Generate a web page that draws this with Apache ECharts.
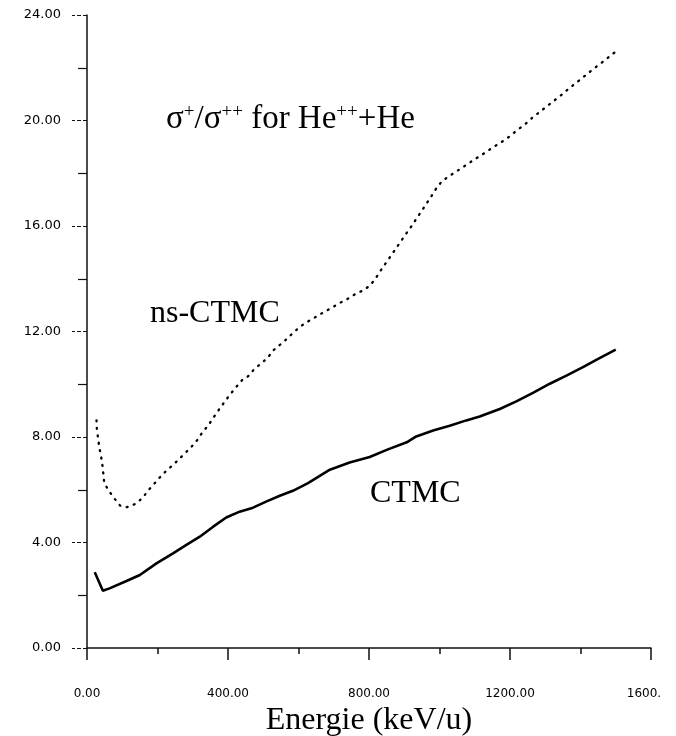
<!DOCTYPE html>
<html>
<head>
<meta charset="utf-8">
<script src="https://cdn.jsdelivr.net/npm/echarts@6/dist/echarts.min.js"></script>
<style>
  html, body { margin: 0; padding: 0; background: #fff; }
  #chart { width: 676px; height: 736px; }
</style>
</head>
<body>
<div id="chart"></div>
<script>
// ns-CTMC (pointillé)
let nsEnergy = [27, 28, 35, 40, 44, 49, 62, 77, 94, 113, 137, 157, 173, 190, 206, 225, 244, 261, 280, 299,
    312, 327, 345, 359, 374, 388, 403, 421, 441, 457, 473, 495, 512, 528, 548, 567, 584, 605, 627, 649,
    671, 694, 715, 737, 759, 783, 803, 819, 833, 847, 861, 876, 891, 906, 922, 935, 950, 963, 977, 991,
    1007, 1027, 1049, 1071, 1092, 1114, 1135, 1157, 1177, 1199, 1223, 1244, 1262, 1282, 1303, 1323,
    1345, 1365, 1384, 1404, 1424, 1445, 1466, 1487, 1502];
let nsRatio = [8.63, 8.30, 7.60, 7.26, 6.90, 6.25, 5.96, 5.68, 5.40, 5.34, 5.46, 5.68, 5.96, 6.22, 6.46, 6.72, 6.94, 7.16, 7.41, 7.67,
    7.87, 8.17, 8.46, 8.74, 9.03, 9.29, 9.56, 9.86, 10.17, 10.30, 10.55, 10.80, 10.99, 11.28, 11.50, 11.72, 11.94, 12.19, 12.38, 12.55,
    12.73, 12.90, 13.07, 13.22, 13.40, 13.56, 13.74, 14.02, 14.31, 14.58, 14.85, 15.14, 15.43, 15.72, 16.02, 16.29, 16.58, 16.85, 17.13, 17.43,
    17.70, 17.89, 18.08, 18.27, 18.46, 18.65, 18.83, 19.03, 19.19, 19.40, 19.66, 19.87, 20.09, 20.30, 20.52, 20.73,
    20.96, 21.19, 21.39, 21.60, 21.82, 22.04, 22.25, 22.48, 22.63];

// CTMC (trait plein)
let ctmcEnergy = [22, 45, 64, 112, 150, 197, 244, 282, 320, 358, 395, 433, 471, 508, 547, 584, 627, 689, 745, 802,
    852, 907, 934, 982, 1029, 1076, 1114, 1171, 1218, 1265, 1313, 1360, 1407, 1454, 1500];
let ctmcRatio = [2.87, 2.17, 2.26, 2.54, 2.77, 3.21, 3.59, 3.91, 4.22, 4.60, 4.95, 5.17, 5.32, 5.55, 5.77, 5.96, 6.25, 6.76, 7.03, 7.24,
    7.52, 7.80, 8.02, 8.25, 8.43, 8.63, 8.78, 9.06, 9.35, 9.67, 10.02, 10.33, 10.65, 10.99, 11.31];

let xTicks = [0, 400, 800, 1200, 1600];
let yTicks = [0, 4, 8, 12, 16, 20, 24];

function pairs(xs, ys){
    let out = [];
    for(let i = 0;i<xs.length;i++){
        out.push([xs[i], ys[i]]);
    }
    return out;
}

let myChart = echarts.init(document.getElementById('chart'));

let option = {
    backgroundColor: '#fff',
    animation: false,
    grid: { left: 87, right: 25, top: 15, bottom: 88, outerBoundsMode: 'none', containLabel: false },
    xAxis: {
        type: 'value',
        min: xTicks[0],
        max: xTicks[xTicks.length - 1],
        interval: 400,
        name: 'Energie (keV/u)',
        nameLocation: 'middle',
        nameGap: 47,
        nameTextStyle: { fontFamily: 'Liberation Serif', fontSize: 32, color: '#000' },
        axisLine: { lineStyle: { color: '#111', width: 1.5 } },
        axisTick: { length: 12, lineStyle: { color: '#111', width: 1.5 } },
        minorTick: { show: true, splitNumber: 2, length: 6, lineStyle: { color: '#111', width: 1.5 } },
        splitLine: { show: false },
        axisLabel: {
            margin: 40,
            fontFamily: 'DejaVu Sans',
            fontSize: 12,
            color: '#000',
            formatter: function (v) {
                if (v === 1600) return '{last|1600.}';
                return v.toFixed(2);
            },
            rich: { last: { fontFamily: 'DejaVu Sans', fontSize: 12, color: '#000', padding: [0, 14, 0, 0] } }
        }
    },
    yAxis: {
        type: 'value',
        min: yTicks[0],
        max: yTicks[yTicks.length - 1],
        interval: 4,
        axisLine: { show: true, lineStyle: { color: '#111', width: 1.5 } },
        axisTick: { show: true, length: 15, lineStyle: { color: '#111', width: 1.2, type: [4, 2] } },
        minorTick: { show: true, splitNumber: 2, length: 9, lineStyle: { color: '#111', width: 1.2 } },
        splitLine: { show: false },
        axisLabel: {
            margin: 26,
            fontFamily: 'DejaVu Sans',
            fontSize: 13,
            color: '#000',
            formatter: function (v) { return v.toFixed(2); }
        }
    },
    graphic: [
        {
            type: 'text',
            left: 166,
            top: 103,
            style: {
                text: '{s|σ}{sup|+}{s|/σ}{sup|++}{s| for He}{sup|++}{s|+He}',
                rich: {
                    s: { fontFamily: 'Liberation Serif', fontSize: 33, color: '#000', verticalAlign: 'bottom' },
                    sup: { fontFamily: 'Liberation Serif', fontSize: 19, color: '#000', verticalAlign: 'top' }
                }
            }
        },
        {
            type: 'text',
            left: 150,
            top: 298,
            style: { text: 'ns-CTMC', fontFamily: 'Liberation Serif', fontSize: 32, fill: '#000' }
        },
        {
            type: 'text',
            left: 370,
            top: 478,
            style: { text: 'CTMC', fontFamily: 'Liberation Serif', fontSize: 32, fill: '#000' }
        }
    ],
    series: [
        {
            name: 'ns-CTMC',
            type: 'line',
            showSymbol: false,
            data: pairs(nsEnergy, nsRatio),
            lineStyle: { color: '#000', width: 2.3, type: [1, 6.5], cap: 'round' }
        },
        {
            name: 'CTMC',
            type: 'line',
            showSymbol: false,
            data: pairs(ctmcEnergy, ctmcRatio),
            lineStyle: { color: '#000', width: 2.6 }
        }
    ]
};

myChart.setOption(option);
</script>
</body>
</html>
